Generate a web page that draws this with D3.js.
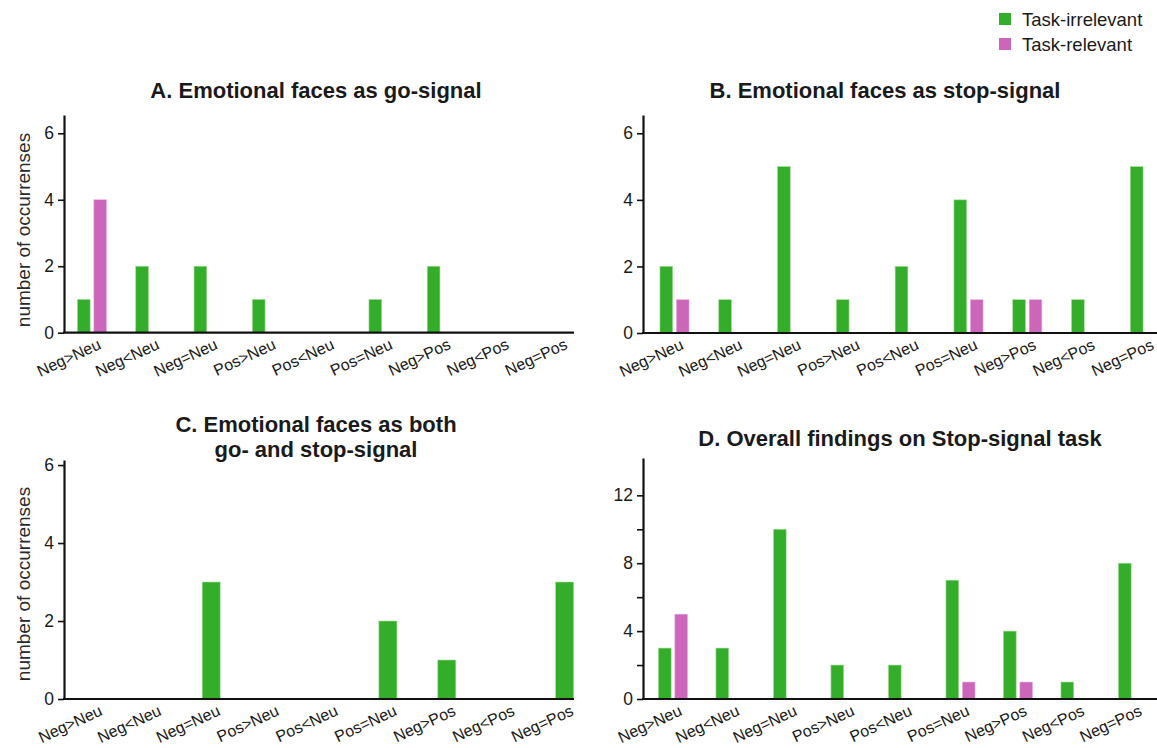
<!DOCTYPE html>
<html>
<head>
<meta charset="utf-8">
<script src="https://cdn.jsdelivr.net/npm/d3@7"></script>
<style>
  html, body { margin: 0; padding: 0; background: #ffffff; }
  svg { display: block; font-family: "Liberation Sans", Arial, Helvetica, sans-serif; }
</style>
</head>
<body>
<svg id="chart" width="1157" height="748"></svg>
<script>
// ---------------- DATA ----------------
const categories = ["Neg>Neu", "Neg<Neu", "Neg=Neu", "Pos>Neu", "Pos<Neu", "Pos=Neu", "Neg>Pos", "Neg<Pos", "Neg=Pos"];
const seriesNames = ["Task-irrelevant", "Task-relevant"];

const goIrrelevant   = [1, 2, 2, 1, 0, 1, 2, 0, 0];
const goRelevant     = [4, 0, 0, 0, 0, 0, 0, 0, 0];
const stopIrrelevant = [2, 1, 5, 1, 2, 4, 1, 1, 5];
const stopRelevant   = [1, 0, 0, 0, 0, 1, 1, 0, 0];
const bothIrrelevant = [0, 0, 3, 0, 0, 2, 1, 0, 3];
const allIrrelevant  = [3, 3, 10, 2, 2, 7, 4, 1, 8];
const allRelevant    = [5, 0, 0, 0, 0, 1, 1, 0, 0];

const smallTicks = [0, 2, 4, 6];
const overallTicks = [0, 4, 8, 12];
const overallMinorTicks = [2, 6, 10];

const titleA = ["A. Emotional faces as go-signal"];
const titleB = ["B. Emotional faces as stop-signal"];
const titleC = ["C. Emotional faces as both", "go- and stop-signal"];
const titleD = ["D. Overall findings on Stop-signal task"];
const yLabel = "number of occurrenses";

// ---------------- STYLE / LAYOUT ----------------
const colors = { "Task-irrelevant": "#34ad2a", "Task-relevant": "#cc66bb" };
const textColor = "#1a1a1a";

const svg = d3.select("#chart");

function drawPanel(cfg) {
  const g = svg.append("g");
  const y = d3.scaleLinear().domain([0, cfg.yMax]).range([cfg.bottom, cfg.top]);

  // group band scale
  const series = cfg.series;
  let groupW, inner;
  if (series.length > 1) {
    groupW = 2 * cfg.barW + cfg.gap;
    const p = cfg.gap / (cfg.barW + cfg.gap);
    inner = d3.scaleBand().domain(series.map(s => s.name)).range([0, groupW]).paddingInner(p).paddingOuter(0);
  } else {
    groupW = cfg.barW;
    inner = d3.scaleBand().domain(series.map(s => s.name)).range([0, groupW]).padding(0);
  }
  const pi = 1 - groupW / cfg.step;
  const r0 = cfg.firstCenter - groupW / 2;
  const x = d3.scaleBand().domain(categories).range([r0, r0 + cfg.step * (categories.length - pi)])
    .paddingInner(pi).paddingOuter(0);

  // bars
  series.forEach(s => {
    g.append("g").selectAll("rect")
      .data(categories.map((c, i) => ({ c, v: s.values[i] })).filter(d => d.v > 0))
      .join("rect")
      .attr("x", d => x(d.c) + inner(s.name))
      .attr("width", inner.bandwidth())
      .attr("y", d => y(d.v))
      .attr("height", d => y(0) - y(d.v))
      .attr("fill", colors[s.name])
      .attr("stroke", s.name === "Task-irrelevant" ? "#9fdc92" : "#e8b3de")
      .attr("stroke-width", 0.6);
  });

  // y axis
  const yAxis = d3.axisLeft(y).tickValues(cfg.ticks).tickFormat(d3.format("d"))
    .tickSize(6).tickSizeOuter(0).tickPadding(4);
  const ya = g.append("g").attr("transform", `translate(${cfg.left},0)`).call(yAxis);
  ya.select(".domain").attr("stroke", "#111").attr("stroke-width", 2.2);
  ya.selectAll(".tick line").attr("stroke", "#111").attr("stroke-width", 1.6);
  ya.selectAll(".tick text").attr("font-size", 17.5).attr("fill", textColor)
    .attr("font-family", "Liberation Sans, Arial, sans-serif");
  if (cfg.minor) {
    const ym = d3.axisLeft(y).tickValues(cfg.minor).tickFormat("").tickSize(6).tickSizeOuter(0);
    const m = g.append("g").attr("transform", `translate(${cfg.left},0)`).call(ym);
    m.select(".domain").remove();
    m.selectAll(".tick line").attr("stroke", "#111").attr("stroke-width", 1.6);
  }

  // x axis baseline
  g.append("line").attr("x1", cfg.left - 1).attr("x2", cfg.right)
    .attr("y1", y(0)).attr("y2", y(0)).attr("stroke", "#111").attr("stroke-width", 2.2);

  // x category labels
  const xAxis = d3.axisBottom(x).tickSize(0).tickPadding(0);
  const xa = g.append("g").attr("transform", `translate(0,${y(0)})`).call(xAxis);
  xa.select(".domain").remove();
  xa.selectAll(".tick text")
    .attr("font-size", 16).attr("fill", textColor)
    .attr("font-family", "Liberation Sans, Arial, sans-serif")
    .attr("text-anchor", "end")
    .attr("y", 0).attr("dy", 0)
    .attr("transform", "translate(10,15.5) rotate(-25)");

  // title
  const t = g.append("text").attr("text-anchor", "middle")
    .attr("font-size", 22).attr("font-weight", "bold").attr("fill", textColor);
  cfg.title.forEach((line, i) => {
    t.append("tspan").attr("x", cfg.titleX).attr("y", cfg.titleY + i * 25).text(line);
  });

  // y label
  if (cfg.yLabel) {
    g.append("text").attr("transform", `translate(30,${cfg.yLabelY}) rotate(-90)`)
      .attr("text-anchor", "middle").attr("font-size", 19).attr("fill", "#2a2a2a")
      .text(cfg.yLabel);
  }
}

drawPanel({
  left: 64, right: 574, top: 115, bottom: 332.7, yMax: 6.55,
  firstCenter: 92, step: 58.3, barW: 12.7, gap: 3.7,
  series: [{ name: "Task-irrelevant", values: goIrrelevant }, { name: "Task-relevant", values: goRelevant }],
  ticks: smallTicks, title: titleA, titleX: 316, titleY: 98, yLabel: yLabel, yLabelY: 230
});

drawPanel({
  left: 643, right: 1157, top: 115, bottom: 333, yMax: 6.55,
  firstCenter: 674.5, step: 58.8, barW: 12.7, gap: 3.7,
  series: [{ name: "Task-irrelevant", values: stopIrrelevant }, { name: "Task-relevant", values: stopRelevant }],
  ticks: smallTicks, title: titleB, titleX: 885, titleY: 98
});

drawPanel({
  left: 64, right: 574, top: 460, bottom: 699, yMax: 6.13,
  firstCenter: 93.4, step: 58.9, barW: 18, gap: 0,
  series: [{ name: "Task-irrelevant", values: bothIrrelevant }],
  ticks: smallTicks, title: titleC, titleX: 316, titleY: 432, yLabel: yLabel, yLabelY: 584
});

drawPanel({
  left: 643, right: 1157, top: 458, bottom: 699, yMax: 14.2,
  firstCenter: 673, step: 57.5, barW: 12.7, gap: 3.7,
  series: [{ name: "Task-irrelevant", values: allIrrelevant }, { name: "Task-relevant", values: allRelevant }],
  ticks: overallTicks, minor: overallMinorTicks, title: titleD, titleX: 900, titleY: 446
});

// legend
const legend = svg.append("g").attr("transform", "translate(999,13)");
seriesNames.forEach((name, i) => {
  const row = legend.append("g").attr("transform", `translate(0,${i * 25})`);
  row.append("rect").attr("width", 12).attr("height", 12).attr("fill", colors[name]);
  row.append("text").attr("x", 23).attr("y", 13).attr("font-size", 18.5)
    .attr("fill", textColor).text(name);
});
</script>
</body>
</html>
